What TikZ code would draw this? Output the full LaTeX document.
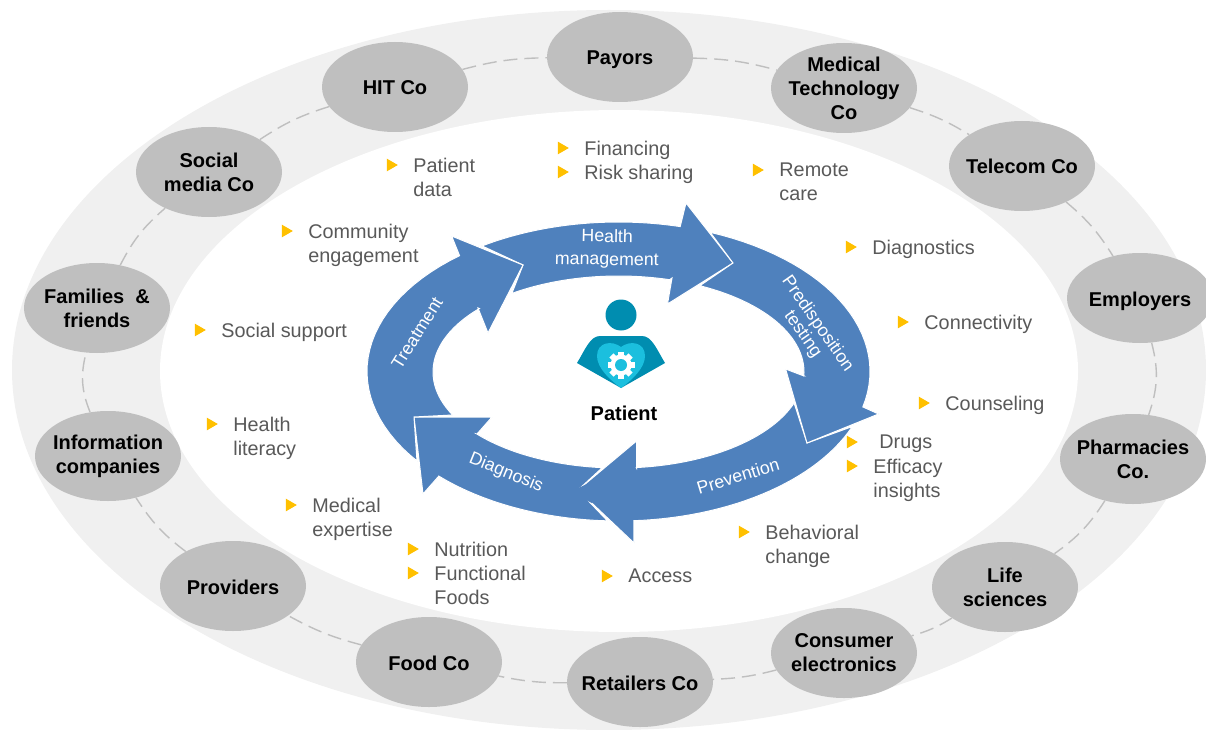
\documentclass[tikz,border=0pt]{standalone}
\usepackage{fontspec}
\setmainfont{Liberation Sans}
\usepackage{xcolor}
\usetikzlibrary{positioning,shapes.geometric}
\definecolor{bandgray}{HTML}{F0F0F0}
\definecolor{orggray}{HTML}{BFBFBF}
\definecolor{txtgray}{HTML}{595959}
\definecolor{bulorange}{HTML}{FFC000}
\definecolor{cycblue}{HTML}{4F81BD}
\definecolor{iconteal}{HTML}{008DB0}
\definecolor{iconlight}{HTML}{1BBFDE}
\newcommand{\cycarrow}[7]{\draw[cyc] #1 -- plot[domain=#2:#3,samples=30] ({618.5+251.5*cos(\x)},{371.5+149.5*sin(\x)}) -- #4 -- plot[domain=#5:#6,samples=30] ({618.5+185.5*cos(\x)},{372+96*sin(\x)}) -- #7 -- cycle;}

\begin{document}
\begin{tikzpicture}[
  x=1pt, y=-1pt,
  org/.style={ellipse, fill=orggray, inner sep=-20pt, minimum width=146pt, minimum height=90pt, align=center, font=\fontsize{20}{24}\selectfont\bfseries},
  oneline/.style={org, text height=16pt, text depth=0pt},
  ring/.style={draw=orggray, line width=1.4pt, dash pattern=on 14pt off 7pt},
  bul/.style={isosceles triangle, isosceles triangle apex angle=60, fill=bulorange, inner sep=0pt, minimum height=11pt, minimum width=12pt},
  lab/.style={inner sep=0pt, align=left, text=txtgray, font=\fontsize{19.8}{24}\selectfont},
  cyc/.style={fill=cycblue, draw=white, line width=1pt, line join=miter},
  cyclab/.style={text=white, inner sep=0pt, align=center, font=\fontsize{17.8}{23}\selectfont}
]
\useasboundingbox (0,0) rectangle (1206,730);

% bands
\fill[bandgray] (609,370) ellipse [x radius=597, y radius=360];
\fill[white] (619,371) ellipse [x radius=459, y radius=261];

% outer stakeholders
\node[oneline] (hit) at (395,87) {HIT Co};
\node[oneline] (payors) at (620,57) {Payors};
\node[org] (medtech) at (844,88) {Medical\\Technology\\Co};
\node[oneline] (telecom) at (1022,166) {Telecom Co};
\node[oneline] (employers) at (1140,298) {Employers};
\node[org] (pharma) at (1133,459) {Pharmacies\\Co.};
\node[org] (life) at (1005,587) {Life\\sciences};
\node[org] (consumer) at (844,653) {Consumer\\electronics};
\node[oneline] (retail) at (640,682) {Retailers Co};
\node[oneline] (food) at (429,662) {Food Co};
\node[oneline] (providers) at (233,586) {Providers};
\node[org] (info) at (108,456) {Information\\companies};
\node[org] (families) at (97,308) {Families~~\&\\friends};
\node[org] (social) at (209,172) {Social\\media Co};

\foreach \a/\b/\ang in {hit/payors/7, payors/medtech/7, medtech/telecom/7, telecom/employers/9,
  employers/pharma/17, pharma/life/11, life/consumer/8, consumer/retail/6, retail/food/6,
  food/providers/7, providers/info/10, info/families/18, families/social/11, social/hit/8}
  \draw[ring] (\a) to[bend left=\ang] (\b);

% services
\foreach \i/\x/\y/\txt in {
  1/390.5/165/{Patient\\data},
  2/561.5/148/{Financing},
  3/561.5/172/{Risk sharing},
  4/756.5/170/{Remote\\care},
  5/285.5/231/{Community\\engagement},
  6/849.5/247/{Diagnostics},
  7/901.5/322/{Connectivity},
  8/198.5/330/{Social support},
  9/922.5/403/{Counseling},
  10/210.5/424/{Health\\literacy},
  11/850.5/466/{Efficacy\\insights},
  12/289.5/505/{Medical\\expertise},
  13/742.5/532/{Behavioral\\change},
  14/411.5/549/{Nutrition},
  15/411.5/573/{Functional\\Foods},
  16/605.5/576/{Access}}
{
  \node[bul] (bul\i) at (\x,\y) {};
  \node[lab, below right=-7pt and 15pt of bul\i.east] (lab\i) {\txt};
}
\node[bul] (bul17) at (850.5,442) {};
\node[lab, below right=-7pt and 21pt of bul17.east] (lab17) {Drugs};

% cycle arrows
\cycarrow{(480,245)}{237}{284.2}{(686,203) -- (733,263) -- (667.5,304) -- (672,278)}{286}{234.9}{(523,265)}
\cycarrow{(851,427)}{21.9}{86.5}{(634,543) -- (578,490) -- (636.5,441) -- (636.5,468)}{84.5}{18.8}{(807,443)}
\cycarrow{(710,232)}{291.3}{373.7}{(878.6,414) -- (807,443) -- (785.6,369) -- (804,376)}{362.4}{296}{(733,263)}
\cycarrow{(607.6,521)}{92.5}{135.6}{(423,494) -- (414,417) -- (492,417) -- (477,434)}{139.8}{95}{(578,490)}
\cycarrow{(417,461)}{143}{230.8}{(451.6,236) -- (523,265) -- (488,333) -- (478,308)}{221.4}{153.4}{(414,417)}
\fill[cycblue] (589,483) -- (570,492) -- (592,503) -- cycle;

\node[cyclab, rotate=-1] (health) at (607,249) {Health\\management};
\node[cyclab, rotate=-55, font=\fontsize{17.8}{18}\selectfont] (predisp) at (810,329) {Predisposition\\testing};
\node[cyclab, rotate=17] (prevent) at (738,476) {Prevention};
\node[cyclab, rotate=-22] (diag) at (506,473) {Diagnosis};
\node[cyclab, rotate=58] (treat) at (417,333) {Treatment};

% patient
\fill[iconteal] (621,315) circle [radius=15.5];
\fill[iconteal] (577,363) .. controls (585,350) and (590,336) .. (600,336) -- (642,336) .. controls (652,336) and (657,350) .. (665,363) -- (621,388) -- cycle;
\fill[iconlight] (621,347) .. controls (612,340) and (597,342) .. (597,356) .. controls (597,368) and (610,380) .. (621,388) .. controls (632,380) and (645,368) .. (645,356) .. controls (645,342) and (630,340) .. (621,347) -- cycle;
\fill[white] (621,365) circle [radius=10.5];
\foreach \a in {0,45,...,315}
  \fill[white, rotate around={\a:(621,365)}] (618,351.5) rectangle (624,357);
\fill[iconlight] (621,365) circle [radius=6];
\node[inner sep=0pt, font=\fontsize{20}{24}\selectfont\bfseries] (patient) at (624,413) {Patient};
\end{tikzpicture}
\end{document}
